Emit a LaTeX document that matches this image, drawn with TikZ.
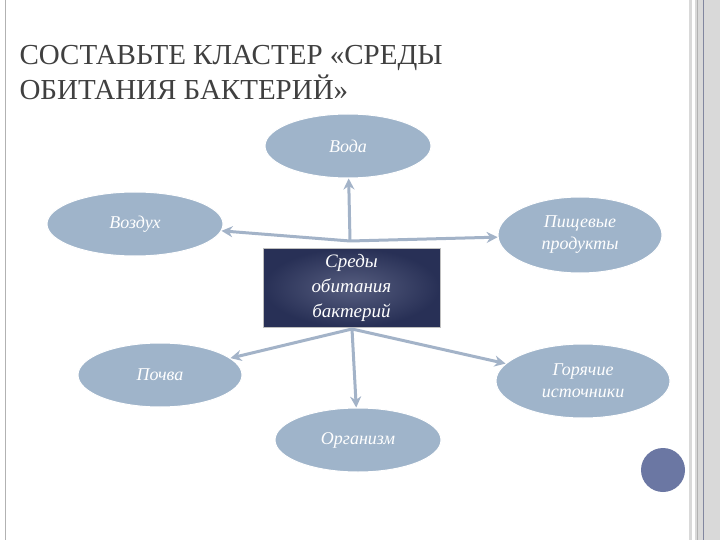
\documentclass[tikz,border=0pt]{standalone}
\usepackage{fontspec}
\setmainfont{Liberation Serif}
\usetikzlibrary{arrows.meta,shapes.geometric}
\definecolor{ell}{HTML}{9FB4CA}
\definecolor{navy}{HTML}{2C355F}
\definecolor{arr}{HTML}{A3B3C8}
\definecolor{dot}{HTML}{6B77A3}
\begin{document}
\begin{tikzpicture}[x=1pt,y=-1pt,
 el/.style={ellipse,fill=ell,draw=white,line width=1pt,text=white,font=\itshape\fontsize{18}{22}\selectfont,align=center,inner sep=0pt},
 con/.style={draw=arr,line width=3pt,-{Stealth[length=11pt,width=11pt]}}]
\useasboundingbox (0,0) rectangle (720,540);
\fill[white] (0,0) rectangle (720,540);
\draw[gray!60,line width=1pt] (5,0) -- (5,540);
\fill[gray!30] (689,0) rectangle (720,540);
\fill[white] (692,0) rectangle (695,540);
\draw[gray!60,line width=1pt] (697,0) -- (697,540);
\draw[navy!60,line width=1pt] (703,0) -- (703,540);
\node[anchor=west,text=black!75,font=\fontsize{29}{35}\selectfont,align=left] (title) at (16,73) {СОСТАВЬТЕ КЛАСТЕР «СРЕДЫ\\ОБИТАНИЯ БАКТЕРИЙ»};
\node[el,minimum width=166pt,minimum height=64pt] (voda) at (348,146) {Вода};
\node[el,minimum width=176pt,minimum height=64pt] (vozd) at (135,224) {Воздух};
\node[el,minimum width=164pt,minimum height=76pt] (pish) at (580,235) {Пищевые\\продукты};
\node[el,minimum width=164pt,minimum height=64pt] (pochva) at (160,375) {Почва};
\node[el,minimum width=174pt,minimum height=74pt] (gor) at (583,381) {Горячие\\источники};
\node[el,minimum width=166pt,minimum height=64pt] (org) at (358,440) {Организм};
\node[draw=gray!50,inner color=navy!80!white,outer color=navy!90!black,minimum width=177pt,minimum height=79pt,text=white,font=\itshape\fontsize{19}{25}\selectfont,align=center] (box) at (351.5,287.5) {Среды\\обитания\\бактерий};
\coordinate (hub) at (350,241);
\coordinate (hubb) at (352,329);
\draw[con] (hub) -- (voda);
\draw[con] (hub) -- (vozd);
\draw[con] (hub) -- (pish);
\draw[con] (hubb) -- (pochva);
\draw[con] (hubb) -- (org);
\draw[con] (hubb) -- (gor);
\fill[dot] (663,470) circle (22);
\end{tikzpicture}
\end{document}
